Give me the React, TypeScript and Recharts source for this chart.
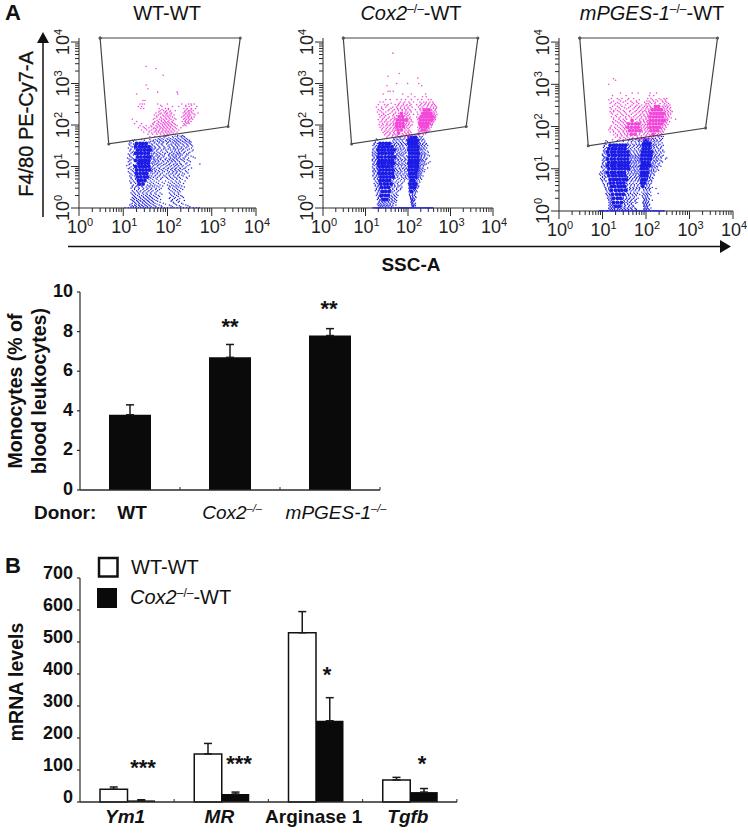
import { BarChart, Bar, XAxis, YAxis, ErrorBar, ScatterChart, Scatter } from 'recharts';

// One row is [F4/80 value, SSC values read along that height]
type Row = [number, number[]];

const decadeTicks = [1, 2, 3, 4, 5, 6, 7, 8, 9, 10, 20, 30, 40, 50, 60, 70, 80, 90, 100, 200, 300, 400, 500, 600, 700, 800, 900, 1000, 2000, 3000, 4000, 5000, 6000, 7000, 8000, 9000, 10000];
const decadeExponents: Record<number, number> = { 1: 0, 10: 1, 100: 2, 1000: 3, 10000: 4 };

const gateVertices = [
  { x: 3, y: 12500 },
  { x: 4400, y: 12500 },
  { x: 2340, y: 92 },
  { x: 4.7, y: 35 },
  { x: 3, y: 12500 },
];

// WT-WT
const wtBlueDense: Row[] = [
  [36, [20, 24, 28, 33]],
  [30, [19, 23, 27, 32, 38]],
  [25, [21, 25, 30, 36, 41]],
  [21, [19, 22, 26, 31, 37]],
  [17, [21, 25, 30, 35, 40]],
  [14, [19, 23, 27, 32, 38]],
  [12, [22, 26, 31, 37]],
  [10, [19, 23, 27, 32, 38]],
  [8.2, [20, 24, 28, 33, 39]],
  [6.8, [20, 24, 29, 34]],
  [5.6, [21, 25, 30, 35]],
  [4.6, [22, 26, 31]],
  [3.8, [23, 28]],
];
const wtBlueLoose: Row[] = [
  [56, [105, 170, 215]],
  [52, [88, 130, 165, 205, 240]],
  [47, [62, 75, 98, 118, 150, 180, 225, 270]],
  [43, [16, 30, 48, 58, 70, 90, 112, 140, 165, 200, 255, 310]],
  [39, [14, 38, 52, 66, 82, 105, 128, 155, 185, 235, 290, 340]],
  [35, [13.5, 17, 44, 56, 72, 95, 120, 148, 172, 215, 270, 330]],
  [31, [15, 42, 50, 63, 80, 102, 130, 160, 190, 240, 300, 370]],
  [28, [13, 45, 54, 68, 88, 115, 142, 170, 205, 260, 350]],
  [25, [14.5, 47, 58, 74, 92, 118, 150, 178, 220, 285, 380]],
  [22, [16, 50, 61, 78, 100, 125, 158, 188, 240, 320]],
  [20, [13, 48, 56, 70, 86, 110, 135, 165, 200, 270]],
  [18, [14, 46, 55, 66, 84, 108, 132, 160, 195, 262, 340]],
  [16, [12.5, 16, 48, 60, 72, 95, 118, 145, 175, 225, 300, 420]],
  [14.5, [15, 49, 58, 70, 90, 112, 135, 165, 210, 280]],
  [13, [13, 47, 54, 64, 82, 104, 128, 150, 185, 240, 330]],
  [11.5, [14, 46, 56, 68, 88, 110, 140, 168, 200, 260, 540]],
  [10.5, [12, 17, 48, 60, 75, 98, 122, 150, 180, 225, 290]],
  [9.2, [14, 44, 52, 64, 84, 105, 132, 158, 190, 250, 350]],
  [8.4, [15, 46, 56, 72, 92, 118, 145, 175, 215, 300]],
  [7.5, [13, 17, 45, 54, 66, 85, 110, 138, 165, 200, 270]],
  [6.6, [15, 46, 58, 70, 95, 120, 150, 185, 240]],
  [5.9, [14, 18, 44, 52, 65, 88, 112, 140, 170, 225, 310]],
  [5.2, [15, 19, 42, 55, 72, 100, 128, 160, 195, 280]],
  [4.5, [14, 17, 41, 50, 64, 90, 120, 150, 185, 250]],
  [3.9, [15, 19, 40, 48, 62, 84, 115, 142, 175, 230]],
  [3.4, [16, 20, 26, 38, 46, 58, 78, 110, 135, 165, 210]],
  [3, [15, 18, 23, 29, 36, 44, 56, 72, 105, 130, 160, 200]],
  [2.6, [16, 20, 25, 31, 38, 47, 60, 120, 150, 185]],
  [2.3, [15, 18, 22, 27, 33, 41, 52, 68, 110, 140, 175]],
  [2, [17, 21, 26, 32, 39, 48, 62, 125, 160, 200]],
  [1.8, [16, 19, 24, 29, 36, 44, 56, 115, 150, 230]],
  [1.6, [15, 18, 22, 27, 33, 40, 50, 70, 130, 170]],
  [1.45, [17, 21, 25, 30, 37, 46, 60, 120, 185]],
  [1.3, [16, 19, 23, 28, 34, 42, 52, 80, 140, 210]],
  [1.18, [14, 18, 22, 26, 31, 38, 48, 65, 110, 160, 260]],
  [1.08, [15, 17, 20, 24, 29, 35, 43, 55, 75, 130, 200, 320]],
  [1.01, [11, 13, 15, 17, 19, 22, 25, 28, 32, 36, 41, 47, 54, 62, 72, 85, 100, 120, 140, 165, 195, 230, 270, 320, 380, 450, 520]],
];
const wtBlueFill: Row[] = [
  [54, [96, 148, 192, 228]],
  [49, [68, 84, 108, 136, 172, 212, 250]],
  [44.5, [18, 26, 40, 53, 66, 80, 102, 128, 158, 192, 240, 285]],
  [40.5, [17, 42, 47, 60, 75, 94, 116, 146, 175, 218, 265, 320]],
  [37, [15, 40, 50, 64, 78, 100, 135, 162, 198, 250, 310]],
  [33, [14, 18, 46, 60, 76, 108, 125, 152, 180, 228, 285, 350]],
  [29.5, [16, 44, 52, 66, 84, 110, 138, 168, 212, 275]],
  [26.5, [15, 18, 50, 62, 82, 104, 135, 155, 192, 232, 310]],
  [23.5, [14, 17, 46, 56, 70, 96, 128, 145, 175, 208, 255, 360]],
  [21, [15, 44, 52, 66, 90, 114, 140, 170, 185, 230, 300]],
  [19, [14, 17, 44, 60, 76, 105, 125, 150, 180, 215, 290]],
  [17, [15, 50, 62, 80, 115, 138, 155, 188, 250, 380]],
  [15.2, [13.5, 17, 44, 52, 68, 88, 108, 128, 158, 195, 240]],
  [13.7, [14, 18, 52, 62, 78, 100, 122, 142, 172, 225, 305]],
  [12.2, [15, 44, 50, 60, 74, 95, 118, 155, 190, 275]],
  [11, [13.5, 17, 52, 64, 82, 108, 135, 162, 205, 320]],
  [9.8, [15, 18, 46, 58, 70, 92, 115, 142, 172, 215, 265]],
  [8.8, [13, 17, 42, 50, 66, 80, 102, 125, 152, 195, 235]],
  [7.9, [16, 44, 52, 62, 78, 100, 128, 155, 185, 255]],
  [7, [14, 18, 42, 50, 60, 76, 104, 130, 160, 220, 290]],
  [6.2, [16, 19, 40, 54, 68, 82, 108, 135, 175, 210]],
  [5.5, [15, 40, 48, 60, 78, 94, 118, 148, 185, 265]],
  [4.9, [16, 19, 38, 46, 58, 70, 108, 135, 165, 215]],
  [4.2, [15, 18, 21, 36, 44, 56, 76, 105, 130, 160, 195]],
  [3.6, [17, 21, 24, 35, 42, 52, 68, 100, 125, 155, 190]],
  [3.2, [16, 19, 22, 27, 33, 40, 50, 64, 115, 148, 180, 240]],
  [2.8, [18, 22, 28, 34, 42, 54, 66, 110, 140, 170, 220]],
  [2.45, [17, 21, 24, 29, 36, 44, 56, 130, 165, 195]],
  [2.15, [16, 19, 23, 29, 35, 43, 55, 75, 118, 145, 180]],
  [1.9, [18, 23, 28, 34, 41, 52, 66, 135, 175, 215]],
  [1.7, [17, 20, 25, 31, 38, 46, 60, 110, 142, 190]],
  [1.52, [16, 20, 24, 29, 35, 43, 55, 125, 160, 240]],
  [1.37, [18, 22, 27, 32, 39, 48, 68, 135, 175]],
  [1.24, [15, 20, 24, 30, 36, 45, 58, 90, 150, 225]],
  [1.13, [16, 19, 23, 27, 33, 40, 52, 72, 120, 185, 290]],
];
const wtPinkLoose: Row[] = [
  [2570, [33]],
  [2300, [55]],
  [1580, [80]],
  [920, [33]],
  [750, [36]],
  [620, [60, 165]],
  [560, [20, 170]],
  [390, [28, 31]],
  [320, [24, 27, 30, 60, 100, 210, 300, 340, 400]],
  [280, [26, 22, 75, 130, 180, 260, 310, 460]],
  [250, [25, 29, 65, 90, 105, 235, 280, 350, 430]],
  [220, [68, 82, 95, 118, 150, 250, 300, 320, 380]],
  [195, [55, 72, 85, 100, 125, 225, 265, 310, 360, 490]],
  [175, [50, 62, 78, 92, 110, 140, 240, 285, 330, 420]],
  [155, [58, 70, 88, 105, 130, 210, 260, 300, 350, 400]],
  [138, [16, 48, 66, 80, 96, 120, 155, 230, 270, 320, 370]],
  [122, [20, 52, 62, 74, 88, 102, 125, 215, 250, 290, 340]],
  [108, [18, 26, 46, 58, 70, 84, 98, 115, 140, 235, 275, 310]],
  [96, [24, 33, 42, 55, 66, 78, 92, 108, 128, 165, 225, 260]],
  [86, [22, 30, 38, 50, 60, 72, 84, 100, 118, 150, 200]],
  [76, [26, 34, 44, 56, 66, 80, 94, 112, 135, 180]],
  [68, [29, 38, 50, 62, 74, 90, 105, 125, 165]],
  [60, [36, 46, 58, 70, 84, 100, 120, 150]],
  [53, [40, 52, 66, 80]],
];
const wtPinkFill: Row[] = [
  [300, [70, 260, 350]],
  [235, [75, 105, 270, 340]],
  [207, [64, 90, 112, 245, 290, 345]],
  [185, [68, 96, 120, 258, 305, 395]],
  [165, [56, 82, 100, 118, 230, 280, 315]],
  [146, [52, 74, 92, 112, 145, 245, 295, 345]],
  [130, [58, 72, 86, 108, 135, 255, 305]],
  [115, [50, 64, 80, 92, 108, 130, 260, 295]],
  [102, [48, 62, 76, 88, 104, 122, 150, 245]],
  [91, [28, 44, 58, 68, 82, 96, 115, 140]],
  [81, [32, 48, 54, 68, 78, 92, 108, 130, 160]],
  [72, [40, 54, 62, 76, 88, 102, 120, 145]],
  [64, [44, 56, 68, 80, 96, 112, 135]],
];

// Cox2-/--WT
const cox2BlueDense: Row[] = [
  [50, [110, 128, 150]],
  [42, [105, 122, 143, 165]],
  [36, [22, 26, 31, 37, 104, 120, 140, 160]],
  [30, [21, 25, 30, 35, 42, 108, 126, 146, 170]],
  [25, [20, 24, 28, 34, 40, 47, 105, 122, 142, 165]],
  [21, [21, 25, 30, 36, 43, 110, 128, 150, 172]],
  [17, [20, 24, 29, 35, 41, 48, 106, 124, 145, 168]],
  [14, [21, 25, 30, 36, 43, 108, 126, 148, 170]],
  [12, [20, 24, 28, 34, 40, 46, 105, 122, 142, 165]],
  [10, [21, 25, 30, 35, 42, 108, 125, 146, 168]],
  [8.2, [22, 26, 31, 37, 44, 105, 122, 143, 160]],
  [6.8, [21, 25, 30, 36, 43, 110, 128, 150]],
  [5.6, [23, 27, 32, 38, 45, 112, 130, 152]],
  [4.6, [22, 26, 31, 37, 118, 136]],
  [3.8, [23, 28, 33, 40, 115, 133, 150]],
  [3.1, [24, 29, 35, 120, 140]],
  [2.5, [25, 30, 36, 122]],
  [2, [24, 29, 34]],
  [1.6, [26, 31]],
];
const cox2BlueLoose: Row[] = [
  [58, [120, 145, 175]],
  [52, [60, 72, 98, 160, 190, 215]],
  [46, [18, 46, 55, 66, 80, 98, 175, 200, 235]],
  [41, [17, 44, 52, 62, 74, 90, 180, 210, 250]],
  [36, [16, 19, 42, 50, 58, 70, 84, 96, 175, 195, 225, 270]],
  [32, [15, 18, 47, 54, 65, 76, 92, 180, 205, 240, 290]],
  [28, [16, 19, 50, 58, 68, 82, 96, 178, 200, 230, 275]],
  [25, [15, 18, 52, 60, 72, 88, 175, 195, 215, 255]],
  [22, [14.5, 17, 50, 62, 76, 90, 180, 205, 240, 300]],
  [20, [16, 19, 54, 64, 80, 178, 195, 225, 265]],
  [18, [15, 18, 52, 60, 72, 92, 172, 190, 210, 250, 320]],
  [16, [16, 19, 54, 66, 84, 175, 200, 235, 280]],
  [14.5, [14.5, 17.5, 50, 60, 74, 90, 176, 195, 220, 260]],
  [13, [16, 19, 52, 64, 80, 172, 188, 215, 250, 330]],
  [11.5, [15, 18, 54, 62, 76, 96, 170, 190, 225, 270]],
  [10.5, [16, 19, 50, 60, 72, 88, 172, 195, 230]],
  [9.2, [15, 18, 52, 64, 78, 92, 168, 185, 215, 290]],
  [8.4, [16, 19, 54, 66, 84, 165, 180, 205, 250]],
  [7.5, [15, 17.5, 20, 50, 60, 72, 90, 165, 178, 200, 240]],
  [6.6, [16, 19, 52, 62, 76, 94, 162, 175, 195]],
  [5.9, [15, 18, 20, 48, 58, 70, 88, 100, 160, 172, 190, 225]],
  [5.2, [16, 19, 50, 62, 78, 92, 158, 170, 200]],
  [4.5, [17, 20, 44, 54, 66, 82, 108, 150, 165, 185]],
  [3.9, [16, 19, 21, 46, 56, 72, 102, 110, 155, 170]],
  [3.4, [17, 20, 42, 50, 62, 108, 145, 160, 180]],
  [3, [18, 21, 44, 54, 68, 105, 112, 150, 165]],
  [2.6, [17, 20, 22, 40, 48, 60, 108, 115, 142, 158]],
  [2.3, [19, 22, 42, 52, 112, 130, 150]],
  [2, [18, 21, 40, 48, 58, 110, 125, 140]],
  [1.8, [20, 23, 37, 44, 54, 115, 132, 155]],
  [1.6, [19, 22, 36, 42, 50, 118, 128, 145]],
  [1.45, [21, 24, 28, 34, 40, 48, 120, 135]],
  [1.3, [20, 23, 27, 32, 38, 46, 122, 130, 150]],
  [1.18, [21, 24, 28, 33, 39, 52, 125, 140]],
  [1.08, [22, 25, 29, 34, 41, 128, 136]],
  [1.01, [15, 17, 19, 21, 23, 26, 29, 32, 36, 40, 45, 50, 56, 63, 70, 78, 88, 98, 110, 122, 136, 152, 170, 190, 215, 240, 270, 300, 340, 380]],
];
const cox2BlueFill: Row[] = [
  [49, [50, 64, 85, 168, 205]],
  [44, [19, 48, 58, 72, 92, 186, 222]],
  [38, [17, 46, 54, 66, 78, 188, 240]],
  [34, [16, 48, 60, 72, 88, 190, 220, 262]],
  [30, [17, 52, 64, 76, 185, 215, 250]],
  [26.5, [15, 18, 54, 66, 78, 186, 208, 240]],
  [23.5, [16, 19, 56, 68, 84, 185, 225, 285]],
  [21, [15, 18, 58, 70, 86, 188, 215, 252]],
  [19, [14.5, 17, 56, 68, 76, 185, 210, 245, 295]],
  [17, [16, 19, 50, 62, 80, 180, 206, 240]],
  [15.2, [15, 18, 56, 68, 86, 184, 212, 270]],
  [13.7, [14.5, 17, 58, 70, 84, 180, 205, 232]],
  [12.2, [16, 19, 50, 60, 72, 88, 178, 200, 240, 300]],
  [11, [15, 17.5, 56, 68, 82, 178, 210, 250]],
  [9.8, [14.5, 18, 48, 58, 70, 84, 174, 195, 228]],
  [8.8, [16, 19, 50, 62, 74, 90, 172, 192, 225]],
  [7.9, [15, 17, 20, 48, 56, 68, 82, 170, 188, 220]],
  [7, [16, 19, 46, 56, 66, 84, 168, 185, 210]],
  [6.2, [15, 18, 46, 54, 68, 80, 98, 165, 182, 205]],
  [5.5, [17, 20, 46, 56, 72, 86, 160, 175, 195]],
  [4.9, [16, 19, 46, 58, 70, 84, 100, 160, 178, 210]],
  [4.2, [18, 21, 42, 50, 60, 76, 105, 148, 160, 190]],
  [3.6, [17, 20, 42, 48, 58, 68, 104, 150, 168]],
  [3.2, [19, 22, 40, 48, 58, 72, 108, 145, 158, 175]],
  [2.8, [18, 21, 38, 44, 54, 66, 110, 136, 150]],
  [2.45, [20, 23, 37, 44, 56, 105, 118, 148, 165]],
  [2.15, [19, 22, 26, 36, 46, 54, 108, 128, 145]],
  [1.9, [21, 25, 34, 42, 50, 114, 128, 150]],
  [1.7, [20, 24, 28, 34, 40, 48, 116, 125, 138]],
  [1.52, [22, 26, 30, 36, 44, 54, 122, 130, 142]],
  [1.37, [21, 25, 29, 35, 42, 52, 118, 128]],
  [1.24, [19, 22, 26, 30, 36, 44, 120, 132, 145]],
  [1.13, [20, 23, 26, 31, 36, 44, 124, 134, 150]],
  [1, [16, 18, 20, 22, 24, 27, 30, 34, 38, 42, 47, 53, 59, 66, 74, 83, 93, 104, 116, 129, 144, 161, 180, 202, 227, 255, 285, 320, 360]],
];
const cox2PinkDense: Row[] = [
  [230, [240, 275, 315]],
  [190, [70, 225, 260, 300, 345]],
  [160, [62, 74, 210, 245, 285, 330, 375]],
  [132, [56, 66, 78, 90, 200, 232, 270, 312, 355]],
  [110, [54, 64, 76, 195, 225, 262, 300]],
  [92, [55, 65, 78, 205, 240, 280]],
  [76, [58, 70, 215, 250]],
  [64, [60]],
];
const cox2PinkLoose: Row[] = [
  [5400, [44]],
  [1750, [62]],
  [1500, [34]],
  [1350, [170]],
  [1000, [54, 98, 180]],
  [880, [32, 210]],
  [650, [34, 38, 45]],
  [560, [26, 75, 120, 260]],
  [480, [100, 145, 220, 270]],
  [410, [30, 38, 55, 70, 88, 120, 170, 210, 300, 350]],
  [360, [22, 26, 66, 84, 105, 135, 190, 235, 270, 330, 380]],
  [310, [20, 28, 34, 50, 60, 78, 95, 118, 160, 200, 250, 300, 370, 420]],
  [270, [18, 24, 30, 44, 54, 68, 82, 100, 125, 175, 215, 280, 340, 400, 470]],
  [235, [20, 26, 36, 48, 58, 72, 90, 110, 150, 190, 350, 440]],
  [205, [19, 24, 30, 42, 52, 86, 100, 120, 165, 395, 460]],
  [180, [21, 27, 34, 46, 90, 108, 135, 170, 410, 480]],
  [155, [22, 28, 36, 48, 92, 112, 160, 185, 420, 450]],
  [135, [20, 25, 31, 40, 48, 100, 118, 170, 190, 400, 440]],
  [118, [22, 28, 34, 44, 95, 110, 130, 175, 350, 395]],
  [102, [21, 26, 32, 38, 46, 88, 104, 125, 180, 340, 370]],
  [88, [22, 27, 33, 40, 48, 92, 108, 170, 195, 310, 350]],
  [76, [24, 30, 36, 44, 50, 90, 105, 175, 290, 330]],
  [66, [26, 32, 38, 46, 84, 100, 118, 180, 270]],
  [58, [28, 36, 44, 52, 78, 92, 110, 160, 185, 230]],
  [51, [32, 42, 52, 66, 85, 108]],
];
const cox2PinkFill: Row[] = [
  [335, [40, 62, 78, 110, 210, 260, 310, 395]],
  [290, [32, 58, 72, 90, 110, 190, 235, 290, 360, 440]],
  [250, [24, 40, 56, 66, 82, 100, 195, 225, 310, 395, 460]],
  [220, [22, 34, 44, 60, 74, 90, 115, 200, 300, 365, 430]],
  [192, [26, 38, 50, 60, 84, 96, 205, 365, 420]],
  [168, [24, 30, 44, 54, 84, 100, 195, 375, 440]],
  [145, [26, 34, 44, 50, 98, 110, 175, 185, 385, 425]],
  [125, [24, 30, 38, 46, 100, 120, 182, 365, 410]],
  [110, [25, 32, 40, 46, 92, 105, 178, 335, 375]],
  [96, [24, 30, 36, 44, 50, 96, 115, 185, 310, 360]],
  [82, [25, 31, 38, 46, 52, 84, 100, 185, 275, 310]],
  [71, [28, 34, 42, 48, 84, 100, 112, 185, 200, 275, 305]],
  [62, [30, 38, 48, 74, 90, 105, 170, 195, 225, 260]],
  [55, [34, 44, 56, 70, 84, 100, 125]],
];

// mPGES-1-/--WT
const mpgesBlueDense: Row[] = [
  [48, [92, 108]],
  [40, [90, 104, 122]],
  [36, [15, 18, 21, 25, 29, 34, 88, 102, 120]],
  [30, [14, 17, 20, 24, 28, 33, 86, 100, 118]],
  [25, [13, 16, 19, 23, 27, 32, 38, 84, 98, 115, 132]],
  [21, [14, 17, 20, 24, 28, 33, 39, 82, 96, 112, 128]],
  [17, [13, 16, 19, 23, 27, 32, 38, 80, 94, 110, 125]],
  [14, [14, 17, 20, 24, 28, 33, 39, 82, 95, 112]],
  [12, [13, 16, 19, 23, 27, 32, 38, 80, 92, 108, 122]],
  [10, [14, 17, 20, 24, 28, 33, 39, 78, 90, 105]],
  [8.2, [13, 16, 19, 23, 27, 32, 80, 92, 106]],
  [6.8, [14, 17, 20, 24, 28, 33, 78, 90, 102]],
  [5.6, [15, 18, 21, 25, 30, 35, 82, 95]],
  [4.6, [15, 18, 22, 26, 31, 80, 92]],
  [3.8, [16, 19, 23, 27, 32, 85]],
  [3.1, [16, 20, 24, 28, 34]],
  [2.5, [17, 21, 25, 30]],
  [2, [18, 22, 26]],
  [1.6, [18, 22, 27]],
  [1.3, [20, 24]],
];
const mpgesBlueLoose: Row[] = [
  [58, [150, 190, 225, 250]],
  [52, [48, 62, 78, 118, 140, 165, 205, 240]],
  [46, [12, 22, 40, 50, 66, 72, 130, 155, 180, 215]],
  [41, [11.5, 38, 46, 58, 70, 135, 158, 190, 235]],
  [36, [11, 38, 44, 54, 66, 74, 138, 160, 195, 250]],
  [32, [10.5, 12.5, 40, 48, 60, 72, 135, 155, 180, 220]],
  [28, [11, 40, 46, 56, 68, 76, 140, 165, 200, 245]],
  [25, [11, 43, 52, 62, 72, 150, 175, 215, 260]],
  [22, [10, 12, 46, 56, 66, 74, 145, 170, 205]],
  [20, [10.5, 44, 52, 60, 70, 140, 160, 190, 235]],
  [18, [11, 44, 50, 58, 68, 135, 150, 180, 225, 300]],
  [16, [10, 12, 46, 56, 64, 72, 130, 150, 175, 210]],
  [14.5, [10.5, 44, 52, 60, 70, 125, 145, 170, 240]],
  [13, [10, 12, 46, 54, 62, 130, 150, 190]],
  [11.5, [9.5, 11, 44, 50, 58, 66, 72, 128, 145, 175, 220]],
  [10.5, [10, 12, 46, 52, 62, 120, 140, 165]],
  [9.2, [10.5, 42, 50, 56, 66, 118, 132, 150, 195]],
  [8.4, [9, 11, 12, 40, 46, 54, 62, 72, 118, 135, 160]],
  [7.5, [8.5, 10, 12, 38, 44, 52, 60, 68, 115, 130, 150]],
  [6.6, [10, 11.5, 38, 46, 56, 66, 76, 112, 125]],
  [5.9, [9, 11, 36, 42, 50, 60, 70, 108, 122, 145]],
  [5.2, [10, 12, 38, 46, 56, 66, 74, 105, 118, 135]],
  [4.5, [10.5, 13, 36, 42, 50, 60, 72, 100, 112, 130]],
  [3.9, [11, 13, 36, 44, 54, 64, 76, 105, 120]],
  [3.4, [12, 14, 37, 44, 52, 62, 72, 98, 110, 125, 170]],
  [3, [12.5, 14.5, 38, 46, 56, 68, 90, 105, 118]],
  [2.6, [12, 14, 32, 38, 44, 54, 64, 86, 100, 112, 190]],
  [2.3, [13, 15, 34, 40, 50, 60, 82, 95, 108, 130]],
  [2, [13, 15, 30, 36, 42, 52, 66, 88, 100, 115]],
  [1.8, [14, 16, 31, 37, 46, 56, 92, 105, 140]],
  [1.6, [14, 16, 30, 35, 42, 50, 62, 85, 98, 112]],
  [1.45, [15, 17, 26, 32, 38, 46, 90, 102, 122]],
  [1.3, [15, 17, 27, 32, 40, 52, 88, 100, 110]],
  [1.18, [14, 16, 18, 22, 26, 31, 37, 44, 55, 95, 108, 130]],
  [1.08, [15, 17, 19, 22, 25, 29, 34, 40, 48, 60, 90, 102, 118]],
  [1.01, [8.5, 9.5, 10.5, 12, 13, 15, 17, 19, 21, 24, 27, 30, 34, 38, 43, 48, 54, 60, 68, 76, 85, 95, 106, 118, 132, 148, 165, 185, 210, 235, 260]],
];
const mpgesBlueFill: Row[] = [
  [49, [44, 58, 70, 112, 132, 150, 178, 225]],
  [44, [13, 30, 46, 56, 68, 78, 145, 170, 200]],
  [38, [12, 40, 50, 60, 70, 80, 148, 170, 210]],
  [34, [11, 42, 52, 64, 76, 130, 148, 175, 230]],
  [30, [11.5, 38, 44, 54, 66, 132, 152, 190, 215]],
  [26.5, [10.5, 12, 42, 50, 60, 74, 145, 165, 195, 240]],
  [23.5, [11, 44, 54, 64, 78, 135, 155, 185, 225]],
  [21, [10, 42, 48, 58, 68, 138, 165, 200, 250]],
  [19, [11, 12, 48, 56, 64, 74, 132, 155, 175, 215]],
  [17, [10.5, 46, 54, 62, 70, 138, 168, 195, 280]],
  [15.2, [11, 44, 50, 58, 66, 76, 128, 158, 185, 225]],
  [13.7, [10, 12, 42, 48, 56, 68, 125, 140, 165, 205]],
  [12.2, [10.5, 44, 52, 60, 70, 125, 138, 160, 200]],
  [11, [9.5, 12, 42, 48, 56, 66, 118, 132, 155, 185]],
  [9.8, [11, 44, 54, 62, 72, 116, 135, 150, 180]],
  [8.8, [10, 12, 38, 46, 58, 68, 115, 128, 148, 170]],
  [7.9, [9.5, 11, 40, 48, 56, 64, 74, 120, 140]],
  [7, [9, 11, 42, 50, 58, 70, 112, 128, 155]],
  [6.2, [10, 12, 38, 44, 54, 62, 72, 110, 122, 140]],
  [5.5, [9.5, 11, 40, 48, 58, 68, 78, 108, 128]],
  [4.9, [10, 12, 36, 44, 52, 64, 76, 104, 115, 135]],
  [4.2, [11, 13, 38, 46, 54, 66, 80, 104, 122]],
  [3.6, [11.5, 14, 34, 42, 50, 60, 70, 98, 115, 140]],
  [3.2, [12, 14, 36, 42, 50, 58, 70, 88, 102, 120]],
  [2.8, [13, 15, 36, 44, 52, 62, 80, 94, 108, 128]],
  [2.45, [12.5, 14.5, 34, 40, 48, 58, 72, 90, 104, 120]],
  [2.15, [14, 16, 30, 36, 44, 54, 84, 98, 110]],
  [1.9, [14, 16, 29, 34, 40, 48, 60, 92, 102, 120]],
  [1.7, [15, 17, 32, 38, 44, 56, 88, 100, 115]],
  [1.52, [15, 18, 27, 32, 38, 46, 58, 86, 96, 108]],
  [1.37, [14, 16, 18, 28, 34, 42, 50, 92, 104, 118]],
  [1.24, [15, 17, 20, 28, 33, 40, 48, 94, 106]],
  [1.13, [14, 16, 19, 23, 27, 32, 38, 46, 58, 90, 100, 112]],
  [1, [9, 10, 11, 12.5, 14, 16, 18, 20, 22.5, 25, 28, 32, 36, 40, 45, 51, 57, 64, 72, 80, 90, 100, 112, 125, 140, 156, 175, 197, 222, 250]],
];
const mpgesPinkDense: Row[] = [
  [300, [165, 195]],
  [250, [140, 165, 195, 225]],
  [205, [130, 155, 182, 215, 250]],
  [170, [125, 148, 175, 205, 240]],
  [140, [48, 124, 145, 170, 200, 235, 265]],
  [116, [40, 48, 58, 68, 122, 145, 170, 200, 230]],
  [96, [38, 46, 56, 66, 125, 148, 175, 205]],
  [80, [42, 50, 60, 72, 130, 155, 185]],
  [66, [46, 56, 145]],
];
const mpgesPinkLoose: Row[] = [
  [1350, [18]],
  [1250, [20]],
  [1000, [14]],
  [620, [26, 48, 66, 125, 175]],
  [540, [17, 35, 120, 150]],
  [460, [16, 22, 28, 40, 52, 110, 130, 200, 260, 300]],
  [400, [18, 26, 34, 45, 60, 105, 118, 150, 185, 240, 285]],
  [350, [15, 20, 24, 38, 52, 68, 100, 112, 135, 160, 210, 270, 330]],
  [300, [17, 22, 28, 44, 58, 72, 92, 108, 125, 240, 280, 320]],
  [260, [16, 20, 26, 36, 50, 64, 80, 98, 112, 125, 270, 300, 350]],
  [225, [15, 18, 24, 32, 42, 56, 70, 85, 100, 115, 280, 330, 400]],
  [195, [17, 22, 28, 36, 46, 60, 76, 90, 108, 280, 320, 370]],
  [170, [16, 21, 26, 34, 42, 52, 66, 80, 96, 110, 290, 340]],
  [148, [18, 24, 30, 36, 58, 72, 86, 100, 290, 320, 480]],
  [130, [17, 22, 28, 34, 62, 76, 90, 105, 280, 350]],
  [112, [20, 26, 32, 72, 84, 98, 108, 270, 320]],
  [96, [15, 19, 24, 30, 34, 76, 88, 102, 110, 240, 290]],
  [84, [14, 17, 22, 28, 33, 78, 92, 108, 230, 270]],
  [74, [15, 18, 24, 30, 36, 82, 98, 112, 215, 250]],
  [64, [18, 22, 27, 33, 38, 70, 88, 104, 120, 180, 215]],
  [56, [20, 25, 31, 38, 50, 64, 78, 96, 115, 135, 165, 195]],
  [49, [17, 24, 30, 38, 48, 62, 76, 90, 110]],
];
const mpgesPinkFill: Row[] = [
  [430, [14, 24, 38, 70, 140, 170, 220, 275]],
  [375, [16, 22, 30, 48, 62, 92, 125, 165, 245, 300]],
  [325, [19, 26, 34, 48, 62, 80, 100, 118, 260, 300, 355]],
  [280, [15, 24, 32, 40, 54, 68, 86, 104, 130, 255, 310, 365]],
  [240, [18, 22, 30, 44, 60, 76, 94, 118, 262, 310, 370]],
  [210, [16, 26, 34, 50, 66, 82, 104, 120, 270, 310, 360]],
  [182, [20, 30, 40, 56, 72, 90, 112, 280, 330]],
  [160, [18, 24, 34, 46, 62, 78, 100, 115, 275, 310, 380]],
  [138, [20, 26, 32, 72, 88, 108, 275, 310]],
  [122, [18, 24, 30, 36, 76, 94, 110, 255, 295]],
  [104, [16, 22, 28, 34, 78, 92, 108, 245, 280]],
  [90, [15, 20, 26, 32, 80, 96, 112, 225, 260]],
  [78, [18, 24, 30, 36, 82, 100, 118, 210, 240]],
  [69, [20, 26, 32, 38, 72, 92, 110, 165, 195, 230]],
  [60, [22, 28, 36, 44, 62, 78, 100, 125, 150, 180, 205]],
  [52, [26, 34, 42, 54, 68, 84, 104, 125, 150]],
];

// Monocyte panel
const donors = ['WT', 'Cox2', 'mPGES-1'];
const monocyteValues = [3.8, 6.7, 7.8];
const monocyteErrors = [0.5, 0.65, 0.35];
const monocyteTicks = [0, 2, 4, 6, 8, 10];

// mRNA panel
const genes = ['Ym1', 'MR', 'Arginase 1', 'Tgfb'];
const wtLevels = [40, 150, 529, 69];
const wtErrors = [7, 33, 66, 8];
const cox2Levels = [5, 25, 254, 31];
const cox2Errors = [2, 6, 72, 11];
const mrnaTicks = [0, 100, 200, 300, 400, 500, 600, 700];

const monocyteData = donors.map((donor, i) => ({ donor, value: monocyteValues[i], err: [0, monocyteErrors[i]] }));
const mrnaData = genes.map((gene, i) => ({
  gene,
  wt: wtLevels[i],
  wtErr: [0, wtErrors[i]],
  cox2: cox2Levels[i],
  cox2Err: [0, cox2Errors[i]],
}));

const FONT = '"Liberation Sans", Arial, sans-serif';
const BLUE = '#1c1ce6';
const PINK = '#f248da';
const AXIS = '#2a2a2a';

const toPoints = (rows: Row[]) => rows.flatMap(([y, xs]) => xs.map((x) => ({ x, y })));

const dot = (r: number, fill: string) => (props: any) => <circle cx={props.cx} cy={props.cy} r={r} fill={fill} />;

const gateDot = (props: any) => <circle cx={props.cx} cy={props.cy} r={1.5} fill="#555" />;

const XDecadeTick = ({ x, y, payload }: any) => {
  const exp = decadeExponents[payload.value];
  const isMajor = exp !== undefined;
  return (
    <g>
      <line x1={x} x2={x} y1={y} y2={y + (isMajor ? 8 : 4)} stroke={AXIS} strokeWidth={1} />
      {isMajor && (
        <text x={x + 1} y={y + 25} textAnchor="middle" fontFamily={FONT} fontSize={18} fill="#222">
          10<tspan dy={-7} fontSize={11}>{exp}</tspan>
        </text>
      )}
    </g>
  );
};

const YDecadeTick = ({ x, y, payload }: any) => {
  const exp = decadeExponents[payload.value];
  const isMajor = exp !== undefined;
  return (
    <g>
      <line x1={x} x2={x - (isMajor ? 8 : 4)} y1={y} y2={y} stroke={AXIS} strokeWidth={1} />
      {isMajor && (
        <text
          transform={`rotate(-90 ${x - 10} ${y})`}
          x={x - 10}
          y={y}
          textAnchor="middle"
          fontFamily={FONT}
          fontSize={18}
          fill="#222"
        >
          10<tspan dy={-7} fontSize={11}>{exp}</tspan>
        </text>
      )}
    </g>
  );
};

interface FlowPlotProps {
  left: number;
  right: number;
  bottom: number;
  blueLayers: Row[][];
  blueDense: Row[];
  pinkLayers: Row[][];
  pinkDense?: Row[];
}

const FlowPlot = ({ left, right, bottom, blueLayers, blueDense, pinkLayers, pinkDense }: FlowPlotProps) => (
  <div style={{ position: 'absolute', left: left - 39, top: 0 }}>
    <ScatterChart width={right - left + 39 + 14} height={bottom + 32} margin={{ top: 38, right: 14, bottom: 0, left: 0 }}>
      <XAxis
        type="number"
        dataKey="x"
        scale="log"
        domain={[1, 10000]}
        ticks={decadeTicks}
        interval={0}
        height={32}
        tickLine={false}
        tickSize={0}
        tickMargin={0}
        stroke={AXIS}
        tick={<XDecadeTick />}
      />
      <YAxis
        type="number"
        dataKey="y"
        scale="log"
        domain={[1, 10000]}
        ticks={decadeTicks}
        interval={0}
        width={39}
        tickLine={false}
        tickSize={0}
        tickMargin={0}
        stroke={AXIS}
        tick={<YDecadeTick />}
      />
      {blueLayers.map((rows, i) => (
        <Scatter key={`blue-${i}`} data={toPoints(rows)} shape={dot(0.72, BLUE)} isAnimationActive={false} />
      ))}
      <Scatter data={toPoints(blueDense)} shape={dot(2, BLUE)} isAnimationActive={false} />
      {pinkLayers.map((rows, i) => (
        <Scatter key={`pink-${i}`} data={toPoints(rows)} shape={dot(0.8, PINK)} isAnimationActive={false} />
      ))}
      {pinkDense && <Scatter data={toPoints(pinkDense)} shape={dot(1.9, PINK)} isAnimationActive={false} />}
      <Scatter data={gateVertices} line={{ stroke: '#444', strokeWidth: 1.2 }} shape={gateDot} isAnimationActive={false} />
    </ScatterChart>
  </div>
);

const DonorTick = ({ x, y, payload }: any) => {
  const name = payload.value;
  const isWt = name === 'WT';
  return (
    <g>
      <line x1={x + 50} x2={x + 50} y1={y} y2={y - 3} stroke={AXIS} strokeWidth={1} />
      <text
        x={isWt ? x + 2 : x + (name === 'Cox2' ? 2 : 6)}
        y={y + 29}
        textAnchor="middle"
        fontFamily={FONT}
        fontSize={19}
        fontWeight={isWt ? 700 : 400}
        fontStyle={isWt ? 'normal' : 'italic'}
        fill="#111"
      >
        {name}
        {!isWt && <tspan dy={-7} fontSize={11}>–/–</tspan>}
      </text>
    </g>
  );
};

const GeneTick = ({ x, y, payload }: any) => (
  <g>
    <line x1={x + 47} x2={x + 47} y1={y} y2={y - 3} stroke={AXIS} strokeWidth={1} />
    <text
      x={x - 2}
      y={y + 21}
      textAnchor="middle"
      fontFamily={FONT}
      fontSize={19}
      fontWeight={700}
      fontStyle={payload.value === 'Arginase 1' ? 'normal' : 'italic'}
      fill="#111"
    >
      {payload.value}
    </text>
  </g>
);

const NumberTick = ({ x, y, payload, dy, size }: any) => (
  <text x={x - 4} y={y + dy} textAnchor="end" fontFamily={FONT} fontSize={size} fontWeight={700} fill="#111">
    {payload.value}
  </text>
);

const MonocyteChart = () => (
  <div style={{ position: 'absolute', left: 0, top: 270 }}>
    <BarChart
      width={400}
      height={260}
      data={monocyteData}
      margin={{ top: 22, right: 20, bottom: 0, left: 0 }}
      barCategoryGap="29%"
    >
      <XAxis dataKey="donor" height={40} stroke={AXIS} strokeWidth={1.4} tickLine={false} tickSize={0} tickMargin={0} interval={0} tick={<DonorTick />} />
      <YAxis
        type="number"
        domain={[0, 10]}
        ticks={monocyteTicks}
        width={80}
        stroke={AXIS}
        strokeWidth={1.2}
        tickSize={3}
        tickMargin={0}
        tick={<NumberTick dy={5} size={18} />}
      />
      <Bar dataKey="value" fill="#0a0a0a" isAnimationActive={false}>
        <ErrorBar dataKey="err" direction="y" width={4} stroke="#1a1a1a" strokeWidth={1.5} isAnimationActive={false} />
      </Bar>
    </BarChart>
  </div>
);

const MrnaChart = () => (
  <div style={{ position: 'absolute', left: 0, top: 540 }}>
    <BarChart
      width={480}
      height={295}
      data={mrnaData}
      margin={{ top: 38, right: 23, bottom: 0, left: 0 }}
      barSize={27.5}
      barGap={0}
    >
      <XAxis dataKey="gene" height={33} stroke={AXIS} strokeWidth={1.4} tickLine={false} tickSize={0} tickMargin={0} interval={0} tick={<GeneTick />} />
      <YAxis
        type="number"
        domain={[0, 700]}
        ticks={mrnaTicks}
        width={80}
        stroke={AXIS}
        strokeWidth={1.2}
        tickSize={3}
        tickMargin={0}
        tick={<NumberTick dy={1} size={18} />}
      />
      <Bar dataKey="wt" fill="#fff" stroke="#111" strokeWidth={1.5} isAnimationActive={false}>
        <ErrorBar dataKey="wtErr" direction="y" width={4} stroke="#1a1a1a" strokeWidth={1.5} isAnimationActive={false} />
      </Bar>
      <Bar dataKey="cox2" fill="#0a0a0a" isAnimationActive={false}>
        <ErrorBar dataKey="cox2Err" direction="y" width={4} stroke="#1a1a1a" strokeWidth={1.5} isAnimationActive={false} />
      </Bar>
    </BarChart>
  </div>
);

const Label = ({ x, y, size = 20, bold, italic, anchor = 'middle', rotate, children }: any) => (
  <text
    x={x}
    y={y}
    fontFamily={FONT}
    fontSize={size}
    fontWeight={bold ? 700 : 400}
    fontStyle={italic ? 'italic' : 'normal'}
    textAnchor={anchor}
    fill="#111"
    transform={rotate ? `rotate(-90 ${x} ${y})` : undefined}
  >
    {children}
  </text>
);

const Sup = ({ children }: any) => <tspan dy={-7} fontSize={12}>{children}</tspan>;

// Panel letters, titles, arrows, stars and the legend sit on top of the charts
const Annotations = () => (
  <svg width={748} height={835} style={{ position: 'absolute', left: 0, top: 0, pointerEvents: 'none' }}>
    <Label x={5} y={20} size={22} bold anchor="start">A</Label>
    <Label x={5} y={573} size={22} bold anchor="start">B</Label>

    <Label x={167} y={20}>WT-WT</Label>
    <text x={411} y={20} fontFamily={FONT} fontSize={20} textAnchor="middle" fill="#111">
      <tspan fontStyle="italic">Cox2</tspan><Sup>–/–</Sup><tspan dy={7}>-WT</tspan>
    </text>
    <text x={652} y={20} fontFamily={FONT} fontSize={20} textAnchor="middle" fill="#111">
      <tspan fontStyle="italic">mPGES-1</tspan><Sup>–/–</Sup><tspan dy={7}>-WT</tspan>
    </text>

    <text
      x={33}
      y={124}
      fontFamily={FONT}
      fontSize={20}
      textAnchor="middle"
      fill="#111"
      stroke="#111"
      strokeWidth={0.3}
      transform="rotate(-90 33 124)"
    >
      F4/80 PE-Cy7-A
    </text>
    <line x1={43} x2={43} y1={217} y2={42} stroke="#111" strokeWidth={1.5} />
    <polygon points="37,43 49,43 43,32" fill="#111" />
    <line x1={68} x2={722} y1={246.5} y2={246.5} stroke="#111" strokeWidth={1.5} />
    <polygon points="720,240 720,253 731,246.5" fill="#111" />
    <Label x={411} y={271} size={19} bold>SSC-A</Label>

    <Label x={22} y={391} size={19.5} bold rotate>Monocytes (% of</Label>
    <Label x={46} y={391} size={19.5} bold rotate>blood leukocytes)</Label>
    <Label x={34} y={519} size={19} bold anchor="start">Donor:</Label>
    <Label x={230} y={334} size={22} bold>**</Label>
    <Label x={329} y={316} size={22} bold>**</Label>

    <rect x={99} y={558} width={18.5} height={18.5} fill="#fff" stroke="#111" strokeWidth={2.5} />
    <rect x={97} y={588} width={20} height={20} fill="#0a0a0a" />
    <Label x={131} y={574} anchor="start">WT-WT</Label>
    <text x={130} y={604} fontFamily={FONT} fontSize={20} fill="#111">
      <tspan fontStyle="italic">Cox2</tspan><Sup>–/–</Sup><tspan dy={7}>-WT</tspan>
    </text>
    <Label x={23} y={682} size={19.5} bold rotate>mRNA levels</Label>
    <Label x={143} y={775} size={22} bold>***</Label>
    <Label x={239} y={771} size={22} bold>***</Label>
    <Label x={327} y={682} size={22} bold>*</Label>
    <Label x={422} y={771} size={22} bold>*</Label>
  </svg>
);

export default function App() {
  return (
    <div style={{ position: 'absolute', left: 0, top: 0, width: 748, height: 835, background: '#fff', overflow: 'hidden' }}>
      <FlowPlot left={79} right={256} bottom={208} blueLayers={[wtBlueLoose, wtBlueFill]} blueDense={wtBlueDense} pinkLayers={[wtPinkLoose, wtPinkFill]} />
      <FlowPlot left={323} right={493} bottom={208} blueLayers={[cox2BlueLoose, cox2BlueFill]} blueDense={cox2BlueDense} pinkLayers={[cox2PinkLoose, cox2PinkFill]} pinkDense={cox2PinkDense} />
      <FlowPlot left={559} right={733} bottom={211} blueLayers={[mpgesBlueLoose, mpgesBlueFill]} blueDense={mpgesBlueDense} pinkLayers={[mpgesPinkLoose, mpgesPinkFill]} pinkDense={mpgesPinkDense} />
      <MonocyteChart />
      <MrnaChart />
      <Annotations />
    </div>
  );
}
